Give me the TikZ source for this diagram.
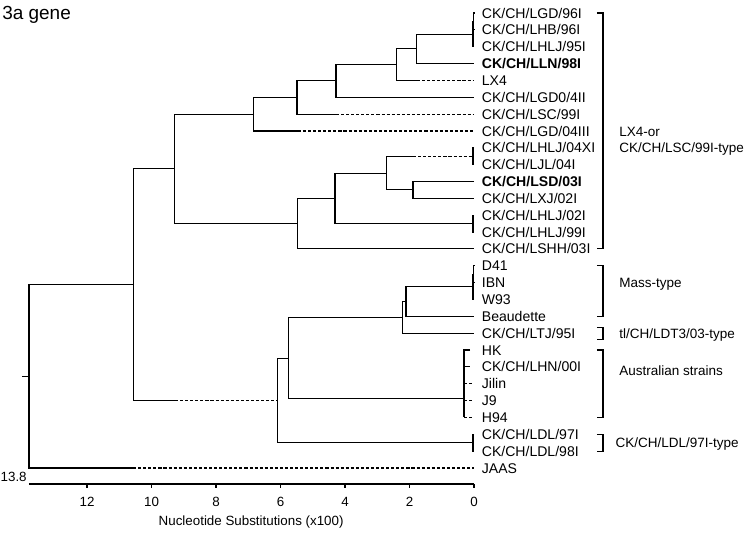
\documentclass[tikz,border=0pt]{standalone}
\usepackage{fontspec}
\setmainfont{Liberation Sans}
\usetikzlibrary{positioning}

\begin{document}
\begin{tikzpicture}[
    x=-0.80625cm, y=-0.42125cm,
    font=\fontsize{10}{12}\selectfont,
    br/.style={draw=black, line width=0.8pt},
    brd/.style={br, dash pattern=on 2.2pt off 1.4pt},
    grp/.style={draw=black, line width=0.75pt},
    txt/.style={anchor=base west, inner sep=0pt, yshift=-3.6pt},
    leaf/.style={txt, xshift=0.19cm},
    grplab/.style={txt, font=\fontsize{9.6}{12}\selectfont}
]
\useasboundingbox (14.698,-0.7715) rectangle (-8.496,30.92);
% title
\node[anchor=base west, inner sep=0pt, font=\fontsize{13.5}{16}\selectfont] (ttl) at (14.636,0.356) {3a gene};
% leaves
\foreach \name [count=\r from 0] in {{CK/CH/LGD/96I}, {CK/CH/LHB/96I}, {CK/CH/LHLJ/95I},
    {\textbf{CK/CH/LLN/98I}}, {LX4}, {CK/CH/LGD0/4II}, {CK/CH/LSC/99I}, {CK/CH/LGD/04III},
    {CK/CH/LHLJ/04XI}, {CK/CH/LJL/04I}, {\textbf{CK/CH/LSD/03I}}, {CK/CH/LXJ/02I},
    {CK/CH/LHLJ/02I}, {CK/CH/LHLJ/99I}, {CK/CH/LSHH/03I}, {D41}, {IBN}, {W93}, {Beaudette},
    {CK/CH/LTJ/95I}, {HK}, {CK/CH/LHN/00I}, {Jilin}, {J9}, {H94}, {CK/CH/LDL/97I},
    {CK/CH/LDL/98I}, {JAAS}}{
  \coordinate (t\r) at (0,\r);
  \node[leaf] (l\r) at (t\r) {\name};
}
% LX4 / LSC clade
\coordinate (n01) at (0.01,0.5);
\coordinate (n02) at (0.03,1.25);
\coordinate (nb) at (1.77,2.125);
\coordinate (nc) at (2.39,3.0625);
\coordinate (x4) at (1.77,4);
\coordinate (nd) at (4.28,4.03);
\coordinate (ne) at (5.49,5.016);
\coordinate (x6) at (4.28,6);
\coordinate (nf) at (6.85,6.008);
\coordinate (x7) at (5.46,7);
\coordinate (nq) at (0.03,8.5);
\coordinate (xq) at (1.89,8.5);
\coordinate (nl) at (1.89,10.5);
\coordinate (nk) at (2.70,9.5);
\coordinate (nr) at (0.03,12.5);
\coordinate (nh) at (4.31,11);
\coordinate (nj) at (5.46,12.5);
\coordinate (ng) at (9.30,9.25);
\draw[br] (t0) -| (n01) |- (t1);
\draw[br] (n01) -| (n02) |- (t2);
\draw[br] (n02) -| (nb) |- (t3);
\draw[br] (nb) -| (nc) |- (x4);
\draw[brd] (x4) -- (t4);
\draw[br] (nc) -| (nd) |- (t5);
\draw[br] (nd) -| (ne) |- (x6);
\draw[brd] (x6) -- (t6);
\draw[br] (ne) -| (nf) |- (x7);
\draw[brd] (x7) -- (t7);
\draw[br] (t8) -| (nq) |- (t9);
\draw[br] (t10) -| (nl) |- (t11);
\draw[br] (xq) -| (nk) |- (nl);
\draw[brd] (xq) -- (nq);
\draw[br] (t12) -| (nr) |- (t13);
\draw[br] (nk) -| (nh) |- (nr);
\draw[br] (nh) -| (nj) |- (t14);
\draw[br] (nf) -| (ng) |- (nj);
% Mass clade
\coordinate (n1516) at (0.01,15.5);
\coordinate (ndiw) at (0.03,16.25);
\coordinate (nm) at (2.11,17.125);
\coordinate (nn) at (2.23,18.06);
\draw[br] (t15) -| (n1516) |- (t16);
\draw[br] (n1516) -| (ndiw) |- (t17);
\draw[br] (ndiw) -| (nm) |- (t18);
\draw[br] (nm) -| (nn) |- (t19);
% Australian strains
\foreach \r in {20,...,24}{\coordinate (a\r) at (0.31,\r);}
\coordinate (s20) at (0.12,20);
\coordinate (s21) at (0.12,21);
\coordinate (nau) at (0.31,22.9);
\draw[br] (s20) -- (a20) -- (a24);
\draw[br] (a21) -- (s21);
\draw[br, line width=1.6pt] (a22) -- (a23);
\foreach \r in {22,23,24}{\draw[brd] (a\r) -- (t\r);}
\coordinate (no) at (5.74,20.48);
\draw[br] (nn) -| (no) |- (nau);
% LDL pair
\coordinate (nld) at (0.03,25.5);
\draw[br] (t25) -| (nld) |- (t26);
\coordinate (np) at (6.08,22.99);
\draw[br] (no) -| (np) |- (nld);
% root
\coordinate (ni) at (10.57,16.12);
\coordinate (xp) at (9.27,22.99);
\draw[br] (ng) -| (ni) |- (xp);
\draw[brd] (xp) -- (np);
\coordinate (root) at (13.8,21.56);
\coordinate (x27) at (10.57,27);
\coordinate (stub) at (14.02,21.56);
\draw[br] (ni) -| (root) |- (x27);
\draw[brd] (x27) -- (t27);
\draw[br] (stub) -- (root);
% scale
\coordinate (ax0) at (13.8,27.95);
\coordinate (ax1) at (0,27.95);
\draw[br] (ax0) -- (ax1);
\foreach \v in {0,2,...,12}{
  \draw[br] (\v,27.95) -- ++(0,0.25);
  \node[inner sep=0pt, font=\fontsize{9.5}{12}\selectfont] (v\v) at (\v,29.02) {\v};
}
\node[anchor=base east, inner sep=0pt, font=\fontsize{9.5}{12}\selectfont] (vmax) at ([xshift=-0.05cm, yshift=0.05cm]ax0) {13.8};
\node[font=\fontsize{9.5}{12}\selectfont] (axt) at (6.91,30.2) {Nucleotide Substitutions (x100)};
% groups
\foreach \a/\b/\g in {0/14/gl, 15/18/gm, 18.65/19.35/gt, 20/24/ga, 25/26/gd}{
  \coordinate (\g1) at (-3.81,\a);
  \coordinate (\g2) at (-3.81,\b);
  \coordinate (\g0) at (-4.0,\a);
  \draw[grp] (\g1) -| (\g0) |- (\g2);
}
\node[grplab] (lbx) at (-4.5,7) {LX4-or};
\node[grplab] (lby) at (-4.5,8) {CK/CH/LSC/99I-type};
\node[grplab] (lbm) at (-4.5,16) {Mass-type};
\node[grplab] (lbt) at (-4.5,19) {tl/CH/LDT3/03-type};
\node[grplab] (lba) at (-4.5,21.2) {Australian strains};
\node[grplab] (lbd) at (-4.38,25.5) {CK/CH/LDL/97I-type};
\end{tikzpicture}
\end{document}
